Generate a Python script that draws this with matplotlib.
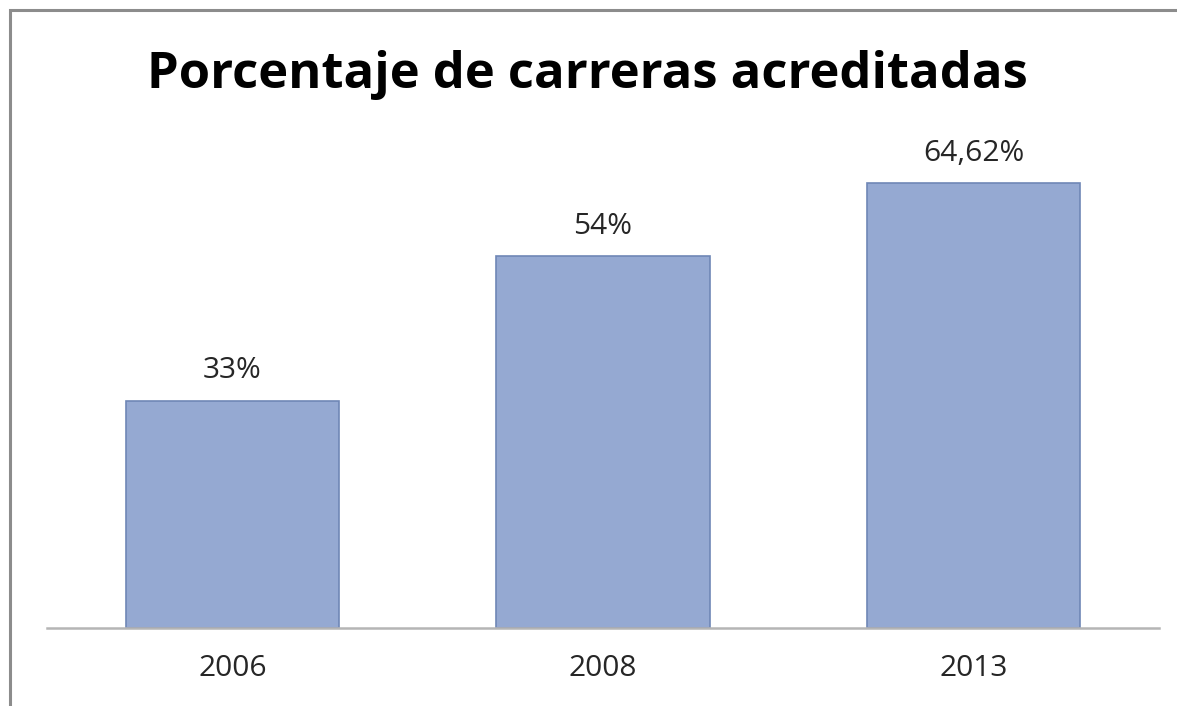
import matplotlib.pyplot as plt
from matplotlib.patches import Rectangle

years = ["2006", "2008", "2013"]
values = [33, 54, 64.62]
value_labels = ["33%", "54%", "64,62%"]

plt.rcParams['font.family'] = ['Open Sans', 'DejaVu Sans']

W, H = 1177, 706
fig = plt.figure(figsize=(W / 100, H / 100), dpi=100)

# outer chart frame (cut off at right and bottom like the screenshot)
fig.patches.append(Rectangle((10 / W, -0.1), 1.2, (H - 10) / H + 0.1,
                             transform=fig.transFigure, fill=False,
                             edgecolor='#8c8c8c', linewidth=2.2))

ax = fig.add_axes([47 / W, (H - 628) / H, (1159 - 47) / W, 482 / H])
x = range(len(years))
bars = ax.bar(x, values, width=0.575, color='#95a9d2', edgecolor='#6f87b6', linewidth=1.2)
ax.set_xlim(-0.5, 2.5)
ax.set_ylim(0, 70)

for rect, lab in zip(bars, value_labels):
    ax.annotate(lab, (rect.get_x() + rect.get_width() / 2, rect.get_height()),
                xytext=(0, 11), textcoords='offset points', ha='center', va='bottom',
                fontsize=21.5, color='#262626')

ax.set_xticks(list(x))
ax.set_xticklabels(years, fontsize=21.5, color='#262626')
ax.tick_params(axis='x', length=0, pad=19)
ax.set_yticks([])
for s in ['top', 'right', 'left']:
    ax.spines[s].set_visible(False)
ax.spines['bottom'].set_color('#b5b5b5')
ax.spines['bottom'].set_linewidth(1.8)

fig.text(587 / W, 1 - 75 / H, "Porcentaje de carreras acreditadas", ha='center', va='center',
         fontsize=36.5, fontweight='bold', color='black')

fig.savefig('out.png', dpi=100)
